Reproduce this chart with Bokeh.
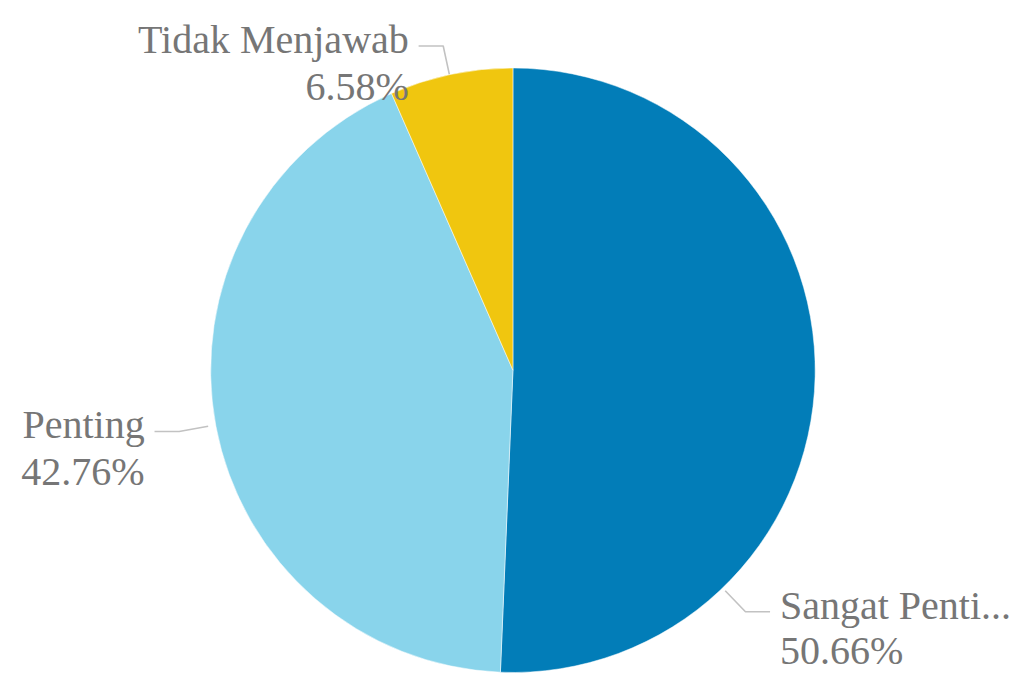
import math
from bokeh.plotting import figure
from bokeh.models import Range1d, ColumnDataSource
from bokeh.core.properties import value
from bokeh.embed import file_html
from bokeh.resources import INLINE

# ---- data ----
categories = ["Sangat Penting", "Penting", "Tidak Menjawab"]
display_names = ["Sangat Penti...", "Penting", "Tidak Menjawab"]
percent = [50.66, 42.76, 6.58]
colors = ["#027DB8", "#89D4EB", "#F0C60F"]

# ---- layout: drawing space of 1033 x 694 units, scaled into the figure ----
W, H = 1017, 678
SW, SH = 1033, 694
BOTTOM_PAD = 12
cx, cy_top, R = 520.5, 385.0, 307.0
cy = SH - cy_top

# label anchor angle overrides (degrees clockwise from top); None -> slice midpoint
label_angle_override = [136.8, None, None]
# distance from leader line down to the baseline of the percentage line
second_line_gap = [40, 42, 42]

total = sum(percent)
starts, ends, mids = [], [], []
acc = 0.0
for v in percent:
    s = acc / total
    acc += v
    e = acc / total
    starts.append(s)
    ends.append(e)
    mids.append((s + e) / 2)

# bokeh angles (anticlockwise from +x); pie runs clockwise from top
start_angle = [math.pi / 2 - e * 2 * math.pi for e in ends]
end_angle = [math.pi / 2 - s * 2 * math.pi for s in starts]

p = figure(width=W, height=H, output_backend="svg", toolbar_location=None,
           x_range=Range1d(0, SW), y_range=Range1d(-BOTTOM_PAD, SH),
           min_border=0, outline_line_color=None)
p.axis.visible = False
p.grid.visible = False
p.background_fill_color = "white"
p.border_fill_color = "white"

src = ColumnDataSource(dict(start=start_angle, end=end_angle, color=colors))
p.wedge(x=cx, y=cy, radius=R, start_angle="start", end_angle="end",
        fill_color="color", line_color="white", line_width=0.5, source=src)

text_color = "#767676"
line_color = "#C2C2C2"
font = value("Liberation Serif")
fs = "40px"

for i, name in enumerate(display_names):
    frac = mids[i]
    deg = label_angle_override[i] if label_angle_override[i] is not None else frac * 360.0
    th = math.radians(deg)
    sx, sy = math.sin(th), math.cos(th)
    x1, y1 = cx + (R + 8) * sx, cy + (R + 8) * sy
    x2, y2 = cx + (R + 38) * sx, cy + (R + 38) * sy
    right = sx > 0
    x3 = x2 + 25 if right else x2 - 25
    p.line([x1, x2, x3], [y1, y2, y2], line_color=line_color, line_width=1.6)
    tx = x3 + 10 if right else x3 - 10
    align = "left" if right else "right"
    p.text(x=[tx], y=[y2 + 7], text=[name], text_font=font, text_font_size=fs,
           text_color=text_color, text_align=align, text_baseline="alphabetic")
    p.text(x=[tx], y=[y2 - second_line_gap[i]], text=["%.2f%%" % percent[i]],
           text_font=font, text_font_size=fs, text_color=text_color,
           text_align=align, text_baseline="alphabetic")

open("out.html", "w").write(file_html(p, INLINE))
